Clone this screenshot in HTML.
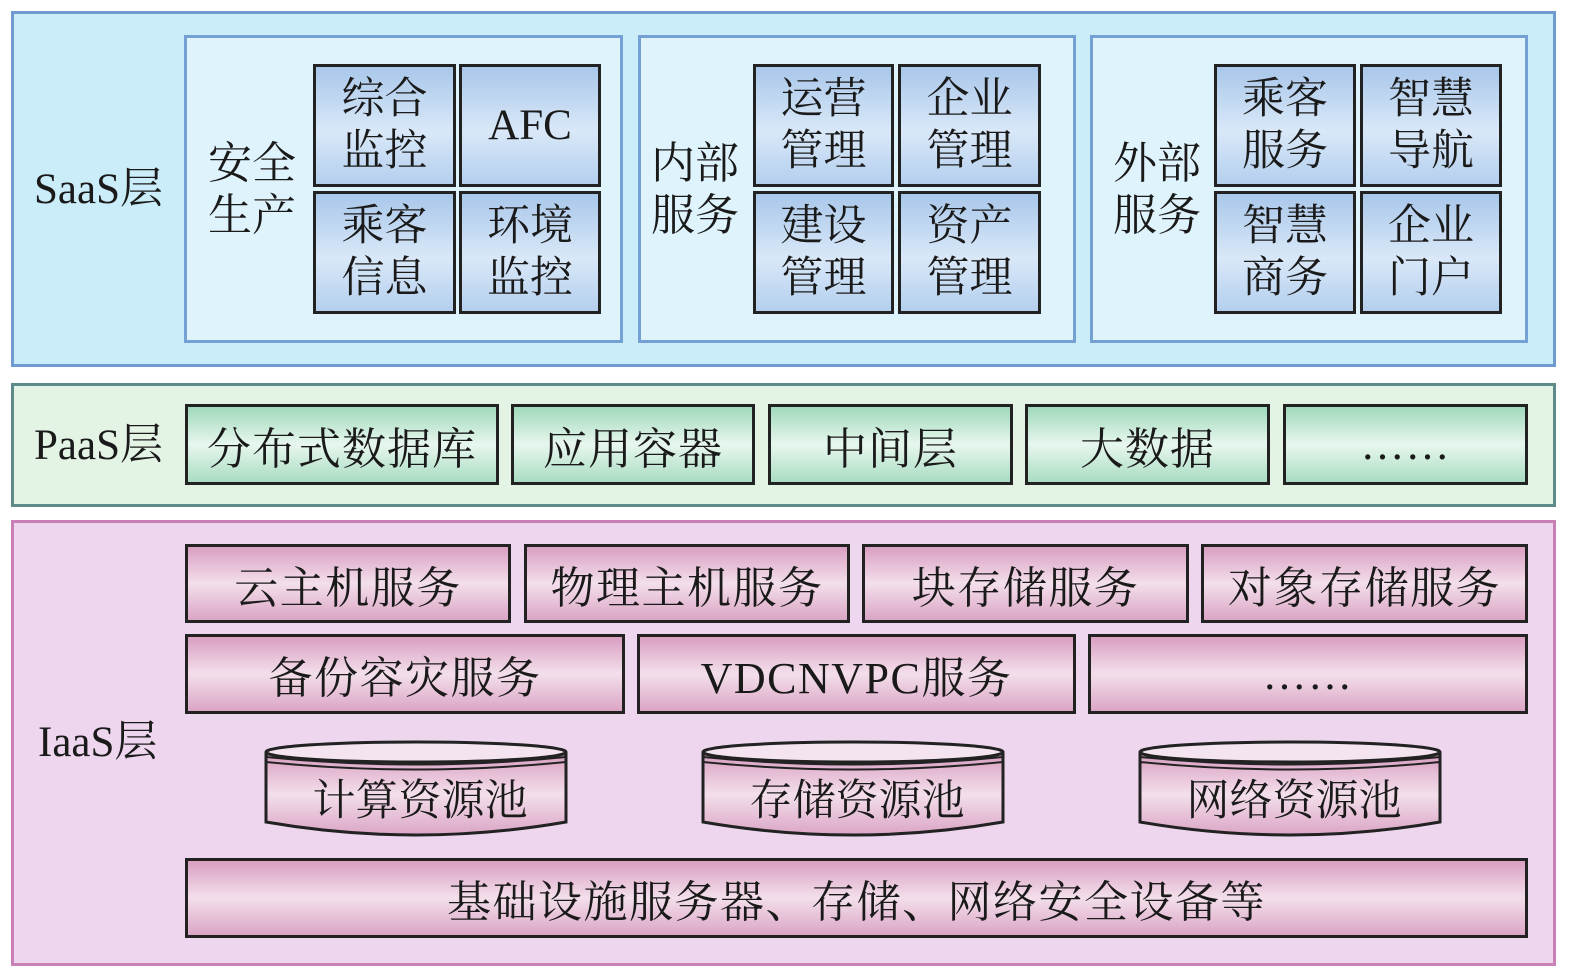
<!DOCTYPE html><html><head><meta charset="utf-8"><style>
body{margin:0;width:1575px;height:979px;background:#fff;position:relative;overflow:hidden;font-family:"Liberation Serif","Noto Serif CJK SC",serif;color:#1a1a1a}
div{position:absolute;box-sizing:border-box}
.c{display:flex;align-items:center;justify-content:center;text-align:center}
.t{border:3px solid #222;background:linear-gradient(#a9c7ea,#d9e8f8 55%,#b4cfee);font-size:43px;line-height:52px}
.g{border:3px solid #222;background:linear-gradient(#9fd9bb,#e8f7ee 50%,#a8dcc1);font-size:44px;letter-spacing:1px}
.p{border:3px solid #222;background:linear-gradient(#d99fc1,#f3dfeb 50%,#dba5c5);font-size:44px;letter-spacing:1.5px}
.grp{border:3px solid #75a0d4;background:#def3fc}
.lab{font-size:43px;line-height:52px}
</style></head><body>
<div style="left:11px;top:11px;width:1545px;height:356px;border:3px solid #6f9bd0;background:#cbedf9"></div>
<div class="lab" style="left:34px;top:164px">SaaS层</div>
<div class="grp" style="left:184px;top:35px;width:439px;height:308px"></div>
<div class="grp" style="left:638px;top:35px;width:438px;height:308px"></div>
<div class="grp" style="left:1090px;top:35px;width:438px;height:308px"></div>
<div class="lab" style="left:208px;top:138px;font-size:44px">安全<br>生产</div>
<div class="lab" style="left:651px;top:138px;font-size:44px">内部<br>服务</div>
<div class="lab" style="left:1113px;top:138px;font-size:44px">外部<br>服务</div>
<div class="t c" style="left:313px;top:64px;width:143px;height:123px">综合<br>监控</div>
<div class="t c" style="left:459px;top:64px;width:142px;height:123px">AFC</div>
<div class="t c" style="left:313px;top:191px;width:143px;height:123px">乘客<br>信息</div>
<div class="t c" style="left:459px;top:191px;width:142px;height:123px">环境<br>监控</div>
<div class="t c" style="left:753px;top:64px;width:141px;height:123px">运营<br>管理</div>
<div class="t c" style="left:898px;top:64px;width:143px;height:123px">企业<br>管理</div>
<div class="t c" style="left:753px;top:191px;width:141px;height:123px">建设<br>管理</div>
<div class="t c" style="left:898px;top:191px;width:143px;height:123px">资产<br>管理</div>
<div class="t c" style="left:1214px;top:64px;width:142px;height:123px">乘客<br>服务</div>
<div class="t c" style="left:1360px;top:64px;width:142px;height:123px">智慧<br>导航</div>
<div class="t c" style="left:1214px;top:191px;width:142px;height:123px">智慧<br>商务</div>
<div class="t c" style="left:1360px;top:191px;width:142px;height:123px">企业<br>门户</div>

<div style="left:11px;top:383px;width:1545px;height:124px;border:3px solid #5f8a8a;background:#e3f4e5"></div>
<div class="lab" style="left:34px;top:420px">PaaS层</div>
<div class="g c" style="left:185px;top:404px;width:314px;height:81px">分布式数据库</div>
<div class="g c" style="left:511px;top:404px;width:244px;height:81px">应用容器</div>
<div class="g c" style="left:768px;top:404px;width:245px;height:81px">中间层</div>
<div class="g c" style="left:1025px;top:404px;width:245px;height:81px">大数据</div>
<div class="g c" style="left:1283px;top:404px;width:245px;height:81px">……</div>

<div style="left:11px;top:520px;width:1545px;height:446px;border:3px solid #c880b6;background:#eed6ee"></div>
<div class="lab" style="left:38px;top:717px">IaaS层</div>
<div class="p c" style="left:185px;top:544px;width:326px;height:79px">云主机服务</div>
<div class="p c" style="left:524px;top:544px;width:326px;height:79px">物理主机服务</div>
<div class="p c" style="left:862px;top:544px;width:327px;height:79px">块存储服务</div>
<div class="p c" style="left:1201px;top:544px;width:327px;height:79px">对象存储服务</div>
<div class="p c" style="left:185px;top:634px;width:440px;height:80px">备份容灾服务</div>
<div class="p c" style="left:637px;top:634px;width:439px;height:80px">VDCNVPC服务</div>
<div class="p c" style="left:1088px;top:634px;width:440px;height:80px">……</div>
<svg style="position:absolute;left:0;top:0" width="1575" height="979">
<defs><linearGradient id="pg" x1="0" y1="0" x2="0" y2="1"><stop offset="0" stop-color="#d99fc1"/><stop offset=".5" stop-color="#f3dfeb"/><stop offset="1" stop-color="#dba5c5"/></linearGradient></defs>
<g stroke="#222" stroke-width="3">
<g id="cy">
<path d="M266 754 L266 822 Q416 848 566 822 L566 754 Z" fill="url(#pg)"/>
<ellipse cx="416" cy="752" rx="150" ry="10" fill="#f4e4ef"/>
<path d="M266 757 Q416 772 566 757" fill="none" stroke-width="2"/>
<path d="M266 762 Q416 777 566 762" fill="none" stroke-width="2"/>
</g>
<use href="#cy" x="437"/><use href="#cy" x="874"/>
</g>
<g font-size="43" text-anchor="middle" fill="#1a1a1a" font-family="Liberation Serif,Noto Serif CJK SC,serif">
<text x="420" y="815">计算资源池</text><text x="857" y="815">存储资源池</text><text x="1294" y="815">网络资源池</text>
</g></svg>
<div class="p c" style="left:185px;top:858px;width:1343px;height:80px">基础设施服务器、存储、网络安全设备等</div>
</body></html>
